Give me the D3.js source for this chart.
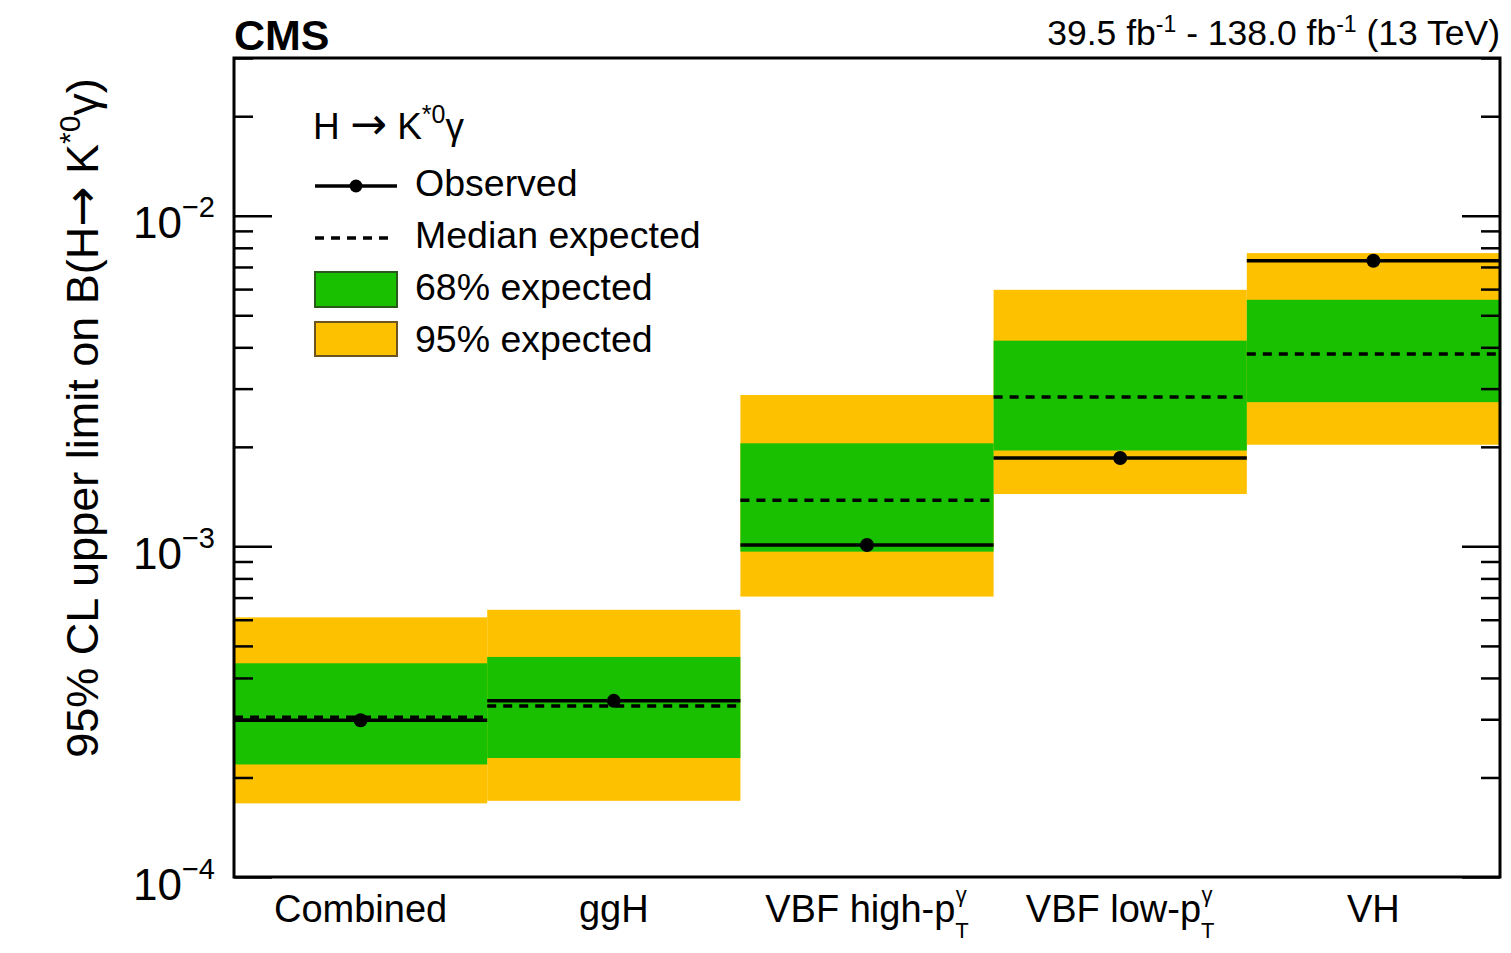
<!DOCTYPE html>
<html>
<head>
<meta charset="utf-8">
<script src="https://cdn.jsdelivr.net/npm/d3@7"></script>
<style>
  body { margin: 0; background: #fff; }
  svg { display: block; }
  text { font-family: Helvetica, "Liberation Sans", Arial, sans-serif; fill: #000; }
  .arrow { font-family: "DejaVu Sans", sans-serif; }
</style>
</head>
<body>
<svg id="chart" width="1511" height="953"></svg>
<script>
// categories (x bins)
var categories = ['Combined', 'ggH', 'VBF high', 'VBF low', 'VH'];
// limits on B(H -> K*0 gamma)
var observed = [2.98e-4, 3.41e-4, 1.01e-3, 1.85e-3, 7.31e-3];
var expected = [3.04e-4, 3.29e-4, 1.38e-3, 2.83e-3, 3.82e-3];
var lo68 = [2.19e-4, 2.29e-4, 9.64e-4, 1.95e-3, 2.73e-3];
var hi68 = [4.43e-4, 4.63e-4, 2.05e-3, 4.19e-3, 5.57e-3];
var lo95 = [1.67e-4, 1.70e-4, 7.05e-4, 1.44e-3, 2.03e-3];
var hi95 = [6.10e-4, 6.43e-4, 2.87e-3, 5.97e-3, 7.71e-3];
var majorTicks = [1e-4, 1e-3, 1e-2];
var tickExponents = ['\u22124', '\u22123', '\u22122'];

var green = '#19c000', yellow = '#fec100';

var plotLeft = 234, plotRight = 1500, plotTop = 58, plotBottom = 877;
var svg = d3.select('#chart');

var x = d3.scaleBand().domain(categories).range([plotLeft, plotRight]).padding(0);
var y = d3.scaleLog().domain([1e-4, 3e-2]).range([plotBottom, plotTop]);

var rows = categories.map(function(c, i) {
    return {cat: c, obs: observed[i], exp: expected[i], lo68: lo68[i], hi68: hi68[i], lo95: lo95[i], hi95: hi95[i]};
});

var g = svg.append('g');

// 95% band
g.selectAll('.b95').data(rows).enter().append('rect')
    .attr('x', function(d) { return x(d.cat); })
    .attr('width', x.bandwidth())
    .attr('y', function(d) { return y(d.hi95); })
    .attr('height', function(d) { return y(d.lo95) - y(d.hi95); })
    .style('fill', yellow);

// 68% band
g.selectAll('.b68').data(rows).enter().append('rect')
    .attr('x', function(d) { return x(d.cat); })
    .attr('width', x.bandwidth())
    .attr('y', function(d) { return y(d.hi68); })
    .attr('height', function(d) { return y(d.lo68) - y(d.hi68); })
    .style('fill', green);

// median expected
g.selectAll('.med').data(rows).enter().append('line')
    .attr('x1', function(d) { return x(d.cat); })
    .attr('x2', function(d) { return x(d.cat) + x.bandwidth(); })
    .attr('y1', function(d) { return y(d.exp); })
    .attr('y2', function(d) { return y(d.exp); })
    .style('stroke', '#000')
    .style('stroke-width', 3.5)
    .style('stroke-dasharray', '9,7');

// observed
g.selectAll('.obs').data(rows).enter().append('line')
    .attr('x1', function(d) { return x(d.cat); })
    .attr('x2', function(d) { return x(d.cat) + x.bandwidth(); })
    .attr('y1', function(d) { return y(d.obs); })
    .attr('y2', function(d) { return y(d.obs); })
    .style('stroke', '#000')
    .style('stroke-width', 3.5);

g.selectAll('.dot').data(rows).enter().append('circle')
    .attr('cx', function(d) { return x(d.cat) + x.bandwidth() / 2; })
    .attr('cy', function(d) { return y(d.obs); })
    .attr('r', 7)
    .style('fill', '#000');

// minor ticks
var minorTicks = [];
[1e-4, 1e-3, 1e-2].forEach(function(dec) {
    for (var k = 2; k <= 9; k++) {
        var v = k * dec;
        if (v <= 3e-2 + 1e-9) minorTicks.push(v);
    }
});

function styleAxis(sel) {
    sel.select('.domain').remove();
    sel.selectAll('.tick line').style('stroke', '#000').style('stroke-width', 2.5);
}

svg.append('g').attr('transform', 'translate(' + plotLeft + ',0)')
    .call(d3.axisLeft(y).tickValues(minorTicks).tickSize(-19).tickFormat(''))
    .call(styleAxis);
svg.append('g').attr('transform', 'translate(' + plotRight + ',0)')
    .call(d3.axisRight(y).tickValues(minorTicks).tickSize(-19).tickFormat(''))
    .call(styleAxis);
svg.append('g').attr('transform', 'translate(' + plotRight + ',0)')
    .call(d3.axisRight(y).tickValues(majorTicks).tickSize(-38).tickFormat(''))
    .call(styleAxis);

var yAxis = svg.append('g').attr('transform', 'translate(' + plotLeft + ',0)')
    .call(d3.axisLeft(y).tickValues(majorTicks).tickSize(-38).tickPadding(19).tickFormat(''))
    .call(styleAxis);

yAxis.selectAll('.tick text')
    .attr('dy', '0.5em')
    .style('font-size', '44px')
    .each(function(d, i) {
        var t = d3.select(this);
        t.append('tspan').text('10');
        t.append('tspan').attr('dy', -21).style('font-size', '29px').text(tickExponents[i]);
    });

// frame
svg.append('rect')
    .attr('x', plotLeft).attr('y', plotTop)
    .attr('width', plotRight - plotLeft).attr('height', plotBottom - plotTop)
    .style('fill', 'none').style('stroke', '#000').style('stroke-width', 3);

// x labels
var xl = svg.append('g');
xl.selectAll('.xlab').data(categories).enter().append('text')
    .attr('x', function(d) { return x(d) + x.bandwidth() / 2; })
    .attr('y', 922)
    .attr('text-anchor', 'middle')
    .style('font-size', '38px')
    .each(function(d) {
        var t = d3.select(this);
        if (d === 'VBF high' || d === 'VBF low') {
            t.append('tspan').text(d + '-p');
            t.append('tspan').attr('dy', 16).style('font-size', '22px').text('T');
            t.append('tspan').attr('dx', -13).attr('dy', -36).style('font-size', '22px').text('\u03b3');
        } else {
            t.text(d);
        }
    });

// y label
var yl = svg.append('text')
    .attr('transform', 'translate(98,418) rotate(-90)')
    .attr('text-anchor', 'middle')
    .style('font-size', '45px');
yl.append('tspan').text('95% CL upper limit on B(H');
yl.append('tspan').attr('class', 'arrow').style('font-size', '48px').text('\u2192');
yl.append('tspan').text(' K');
yl.append('tspan').attr('dy', -18).style('font-size', '30px').text('*0');
yl.append('tspan').attr('dy', 18).text('\u03b3)');

// CMS + lumi
svg.append('text').attr('x', 234).attr('y', 50)
    .style('font-size', '43px').style('font-weight', 'bold').text('CMS');

var lumi = svg.append('text').attr('x', 1500).attr('y', 45)
    .attr('text-anchor', 'end').style('font-size', '35.5px');
lumi.append('tspan').text('39.5 fb');
lumi.append('tspan').attr('dy', -13).style('font-size', '23px').text('-1');
lumi.append('tspan').attr('dy', 13).text(' - 138.0 fb');
lumi.append('tspan').attr('dy', -13).style('font-size', '23px').text('-1');
lumi.append('tspan').attr('dy', 13).text(' (13 TeV)');

// legend
var leg = svg.append('g');
var head = leg.append('text').attr('x', 313).attr('y', 139).style('font-size', '37px');
head.append('tspan').text('H ');
head.append('tspan').attr('class', 'arrow').style('font-size', '44px').text('\u2192');
head.append('tspan').text(' K');
head.append('tspan').attr('dy', -16).style('font-size', '25px').text('*0');
head.append('tspan').attr('dy', 16).text('\u03b3');

var legLabels = ['Observed', 'Median expected', '68% expected', '95% expected'];
leg.selectAll('.ltxt').data(legLabels).enter().append('text')
    .attr('x', 415)
    .attr('y', function(d, i) { return 196 + i * 52; })
    .style('font-size', '37.5px')
    .text(function(d) { return d; });

leg.append('line').attr('x1', 315).attr('x2', 397).attr('y1', 186).attr('y2', 186)
    .style('stroke', '#000').style('stroke-width', 3.5);
leg.append('circle').attr('cx', 356).attr('cy', 186).attr('r', 6.5).style('fill', '#000');
leg.append('line').attr('x1', 315).attr('x2', 392).attr('y1', 238).attr('y2', 238)
    .style('stroke', '#000').style('stroke-width', 3.5).style('stroke-dasharray', '9,7');
leg.append('rect').attr('x', 315).attr('y', 272).attr('width', 82).attr('height', 35)
    .style('fill', green).style('stroke', '#2a5a1a').style('stroke-width', 2);
leg.append('rect').attr('x', 315).attr('y', 322).attr('width', 82).attr('height', 34)
    .style('fill', yellow).style('stroke', '#6b5420').style('stroke-width', 2);
</script>
</body>
</html>
